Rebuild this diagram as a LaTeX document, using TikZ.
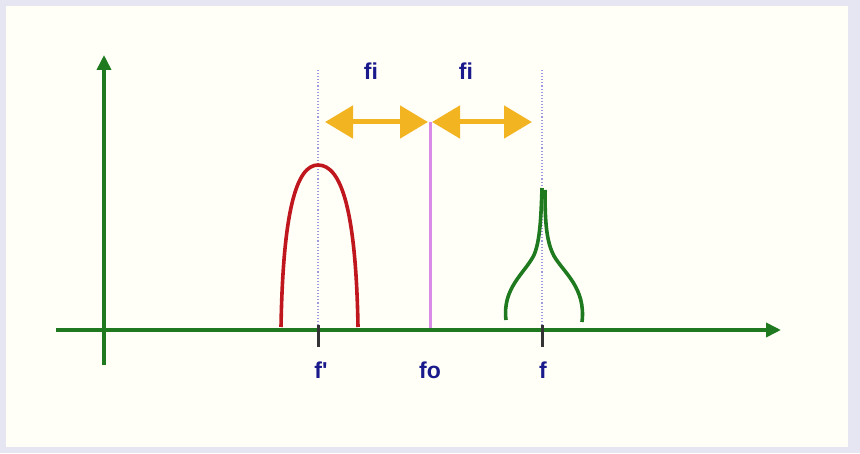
\documentclass[tikz,border=0pt]{standalone}
\usepackage{fontspec}
\setmainfont{Liberation Sans}
\usetikzlibrary{arrows.meta}
\definecolor{frame}{HTML}{E6E6F2}
\definecolor{paper}{HTML}{FFFFF8}
\definecolor{axisgreen}{HTML}{1F7A1F}
\definecolor{labelblue}{HTML}{1A1A8C}
\definecolor{gold}{HTML}{F2B521}
\definecolor{pinkline}{HTML}{D98BE8}
\definecolor{redcurve}{HTML}{C0161E}
\definecolor{dotblue}{HTML}{9A9ADC}
\tikzset{
  axisline/.style={axisgreen, line width=3.6pt, -{Triangle[length=15pt,width=14pt]}},
  lbl/.style={labelblue, font=\bfseries\fontsize{23}{23}\selectfont, inner sep=0pt},
  guide/.style={dotblue, line width=1.1pt, dotted},
  goldarrow/.style={gold, line width=5pt, {Triangle[length=28pt,width=32pt]}-{Triangle[length=28pt,width=32pt]}},
  tickmark/.style={black!80, line width=3pt},
}
\begin{document}
\begin{tikzpicture}[x=1pt,y=1pt]
\fill[frame] (0,0) rectangle (860,453);
\fill[paper] (6,6) rectangle (848,447);
\useasboundingbox (0,0) rectangle (860,453);
% guides
\draw[guide] (318,383) -- (318,123);
\draw[guide] (542,383) -- (542,123);
% pink line
\draw[pinkline, line width=3pt] (430,331) -- (430,123);
% gold arrows
\draw[goldarrow] (325,331) -- (428,331);
\draw[goldarrow] (432,331) -- (532,331);
% axes
\draw[axisline] (104,88) -- (104,398);
\draw[axisline] (56,123) -- (781,123);
% ticks
\draw[tickmark] (318,128) -- (318,106);
\draw[tickmark] (542,128) -- (542,106);
% red curve
\draw[redcurve, line width=3.6pt] (281,126) .. controls (283,240) and (296,288) .. (318,288) .. controls (342,288) and (356,240) .. (358,126);
% green curve
\draw[axisgreen, line width=3.6pt] (506,133) .. controls (502,165) and (525,180) .. (534,198) .. controls (540,212) and (541,235) .. (542,265);
\draw[axisgreen, line width=3.6pt] (545,263) .. controls (545,233) and (546,212) .. (554,197) .. controls (564,180) and (586,165) .. (582,131);
% labels
\node[lbl] (fprime) at (321,83) {f\textquotesingle};
\node[lbl] (fo) at (430,83) {fo};
\node[lbl] (f) at (543,83) {f};
\node[lbl] (fi1) at (371,382) {fi};
\node[lbl] (fi2) at (466,382) {fi};
\end{tikzpicture}
\end{document}
